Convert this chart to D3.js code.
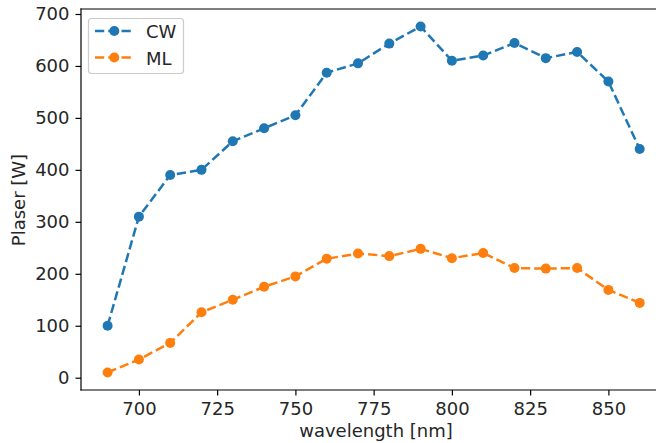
<!DOCTYPE html>
<html><head><meta charset="utf-8">
<script src="https://cdn.jsdelivr.net/npm/d3@7"></script>
<style>body{margin:0;background:#fff}svg{display:block}text{font-family:"DejaVu Sans",sans-serif;fill:#262626}</style>
</head><body>
<svg id="c" width="656" height="443"></svg>
<script>
const wavelengths = [690,700,710,720,730,740,750,760,770,780,790,800,810,820,830,840,850,860];
const cw = [100,310,390,400,455,480,505,587,605,643,676,610,620,644,615,627,570,440];
const ml = [10,35,67,126,150,175,195,229,239,234,248,230,240,211,210,211,169,144];
const xTicks = [700,725,750,775,800,825,850];
const yTicks = [0,100,200,300,400,500,600,700];
const seriesNames = ["CW","ML"];
const colors = ["#1f77b4","#ff7f0e"];

const FS = "18px";
const svg = d3.select("#c");
const L=81, R=666.3, T=9, B=390;
const x = d3.scaleLinear().domain([681.5,868.5]).range([L,R]);
const y = d3.scaleLinear().domain([-23.65,709.6]).range([B,T]);

const gx = svg.append("g").attr("transform",`translate(0,${B})`)
  .call(d3.axisBottom(x).tickValues(xTicks).tickSize(5.5).tickPadding(6.8).tickFormat(d3.format("d")));
const gy = svg.append("g").attr("transform",`translate(${L},0)`)
  .call(d3.axisLeft(y).tickValues(yTicks).tickSize(5.5).tickPadding(6).tickFormat(d3.format("d")));
[gx,gy].forEach(g=>{
  g.attr("font-size",null).attr("font-family",null);
  g.selectAll("path.domain").remove();
  g.selectAll("line").attr("stroke","#000").attr("stroke-width",1.2);
  g.selectAll("text").style("font-family","DejaVu Sans").style("font-size",FS).attr("fill","#262626");
});
// spines
[[L,T,L,B],[L,B,R,B],[L,T,R,T],[R,T,R,B]].forEach(s=>{
  svg.append("line").attr("x1",s[0]).attr("y1",s[1]).attr("x2",s[2]).attr("y2",s[3])
    .attr("stroke","#000").attr("stroke-width",1.2).attr("stroke-linecap","square");
});

const data = [cw, ml];
const line = d3.line().x((d,i)=>x(wavelengths[i])).y(d=>y(d));
data.forEach((s,k)=>{
  svg.append("path").datum(s).attr("d",line).attr("fill","none")
    .attr("stroke",colors[k]).attr("stroke-width",2.5).attr("stroke-dasharray","9.25,4");
  svg.append("g").selectAll("circle").data(s).join("circle")
    .attr("cx",(d,i)=>x(wavelengths[i])).attr("cy",d=>y(d)).attr("r",5).attr("fill",colors[k]);
});

// axis labels
svg.append("text").attr("x",376).attr("y",437).attr("text-anchor","middle")
  .style("font-size",FS).text("wavelength [nm]");
svg.append("text").attr("transform","translate(25,200) rotate(-90)").attr("text-anchor","middle")
  .style("font-size",FS).text("Plaser [W]");

// legend
const lg = svg.append("g");
lg.append("rect").attr("x",88.5).attr("y",18.5).attr("width",95).attr("height",55).attr("rx",3)
  .attr("fill","#fff").attr("fill-opacity",0.8).attr("stroke","#ccc").attr("stroke-width",1.2);
seriesNames.forEach((n,k)=>{
  const yy = 31 + k*26.5;
  lg.append("line").attr("x1",95).attr("x2",133).attr("y1",yy).attr("y2",yy)
    .attr("stroke",colors[k]).attr("stroke-width",2.5).attr("stroke-dasharray","9.25,4");
  lg.append("circle").attr("cx",114.3).attr("cy",yy).attr("r",5).attr("fill",colors[k]);
  lg.append("text").attr("x",146).attr("y",yy+7).style("font-size",FS).text(n);
});
</script>
</body></html>
